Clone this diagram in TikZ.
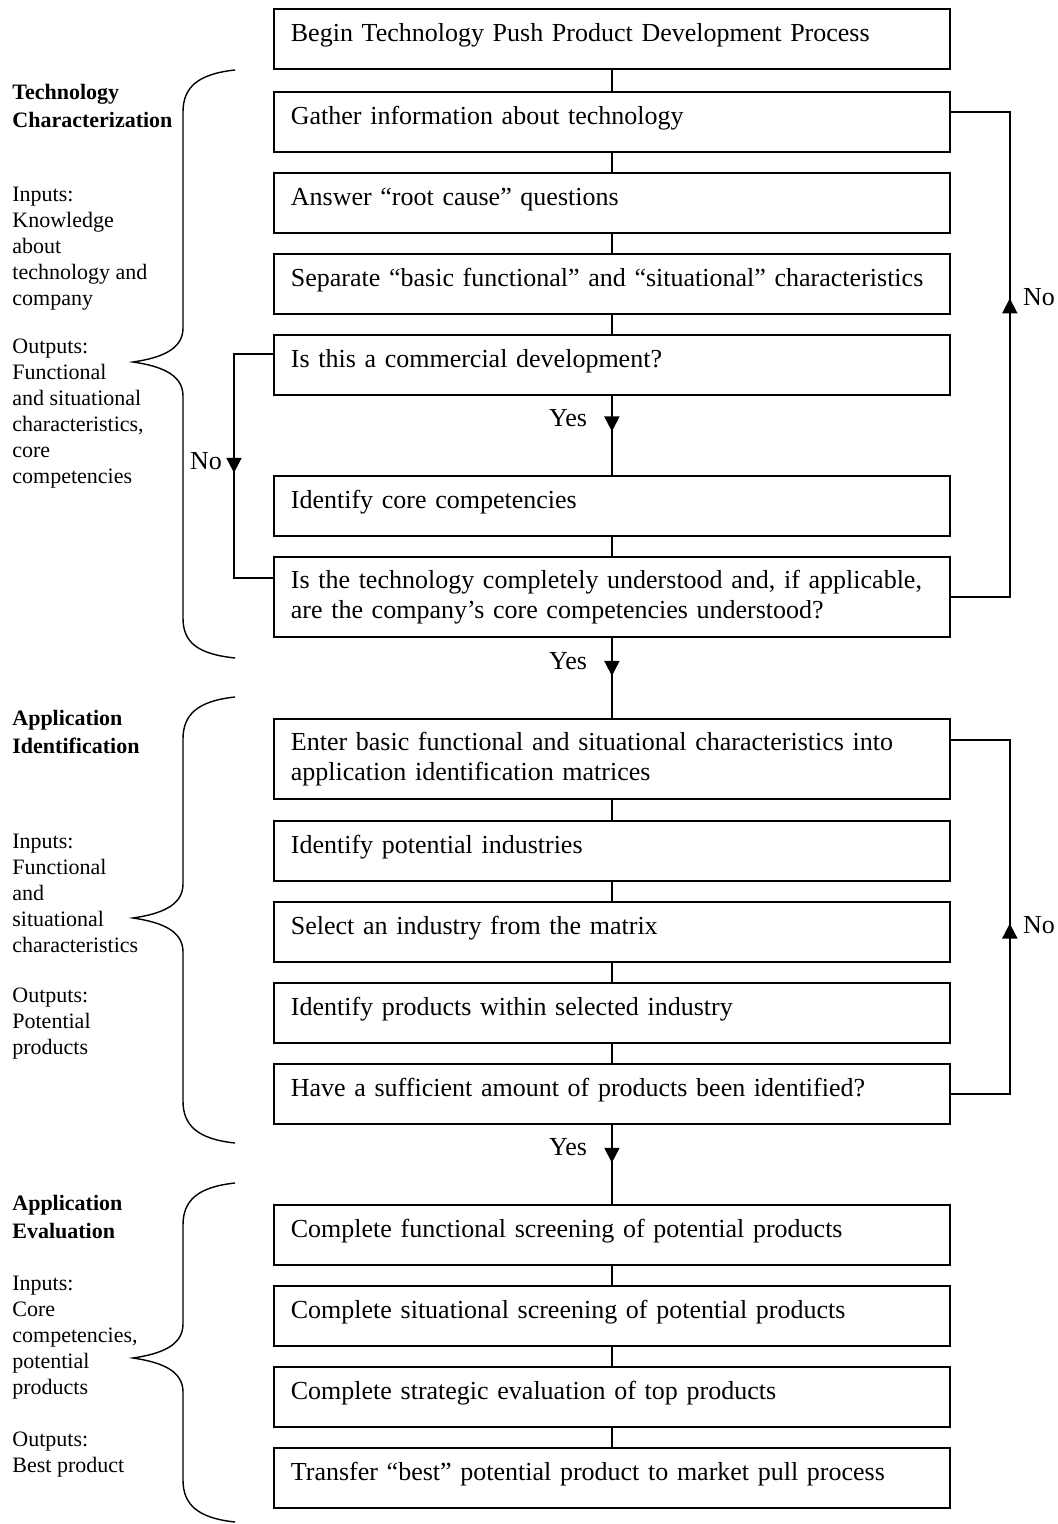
\documentclass[tikz,border=0pt]{standalone}
\usepackage{fontspec}
\setmainfont{Liberation Serif}
\usetikzlibrary{arrows.meta,decorations.markings}

\begin{document}
\begin{tikzpicture}[x=0.5pt, y=-0.5pt,
  boxbase/.style={draw, line width=0.9pt, anchor=north west,
    text width=321pt, inner xsep=8.5pt, inner ysep=0pt, align=left,
    font=\fontsize{13}{15}\selectfont},
  stepbox/.style={boxbase, minimum height=30pt, text height=9.5pt, text depth=6.5pt},
  tallbox/.style={boxbase, minimum height=40pt},
  flow/.style={line width=0.9pt},
  midarrow/.style={postaction={decorate, decoration={markings,
    mark=at position #1 with {\arrow{Triangle[width=7.5pt,length=7.5pt]}}}}},
  lbl/.style={inner sep=0pt, font=\fontsize{13}{15}\selectfont},
  sidehead/.style={anchor=north west, inner sep=0pt, align=left,
    font=\fontsize{11}{14}\selectfont\bfseries},
  sidetext/.style={anchor=north west, inner sep=0pt, align=left,
    font=\fontsize{11}{13}\selectfont},
  brace/.style={line width=0.7pt}]

  \useasboundingbox (0,0) rectangle (1057,1524);

  % Boxes of the process
  \node[stepbox] (begin) at (273,8) {Begin Technology Push Product Development Process};
  \node[stepbox] (gather) at (273,91) {Gather information about technology};
  \node[stepbox] (root) at (273,172) {Answer “root cause” questions};
  \node[stepbox] (separate) at (273,253) {Separate “basic functional” and “situational” characteristics};
  \node[stepbox] (comm) at (273,334) {Is this a commercial development?};
  \node[stepbox] (core) at (273,475) {Identify core competencies};
  \node[tallbox] (understood) at (273,556)
    {Is the technology completely understood and, if applicable,\\are the company’s core competencies understood?};
  \node[tallbox] (enter) at (273,718)
    {Enter basic functional and situational characteristics into\\application identification matrices};
  \node[stepbox] (industries) at (273,820) {Identify potential industries};
  \node[stepbox] (select) at (273,901) {Select an industry from the matrix};
  \node[stepbox] (products) at (273,982) {Identify products within selected industry};
  \node[stepbox] (enough) at (273,1063) {Have a sufficient amount of products been identified?};
  \node[stepbox] (functional) at (273,1204) {Complete functional screening of potential products};
  \node[stepbox] (situational) at (273,1285) {Complete situational screening of potential products};
  \node[stepbox] (strategic) at (273,1366) {Complete strategic evaluation of top products};
  \node[stepbox] (transfer) at (273,1447) {Transfer “best” potential product to market pull process};

  % Plain links
  \draw[flow] (begin.south) -- (gather.north);
  \draw[flow] (gather.south) -- (root.north);
  \draw[flow] (root.south) -- (separate.north);
  \draw[flow] (separate.south) -- (comm.north);
  \draw[flow] (core.south) -- (understood.north);
  \draw[flow] (enter.south) -- (industries.north);
  \draw[flow] (industries.south) -- (select.north);
  \draw[flow] (select.south) -- (products.north);
  \draw[flow] (products.south) -- (enough.north);
  \draw[flow] (functional.south) -- (situational.north);
  \draw[flow] (situational.south) -- (strategic.north);
  \draw[flow] (strategic.south) -- (transfer.north);

  % Yes branches
  \draw[flow, midarrow=0.45] (comm.south) -- (core.north);
  \draw[flow, midarrow=0.475] (understood.south) -- (enter.north);
  \draw[flow, midarrow=0.48] (enough.south) -- (functional.north);
  \node[lbl] (yes1) at (568,418) {Yes};
  \node[lbl] (yes2) at (568,661) {Yes};
  \node[lbl] (yes3) at (568,1147) {Yes};

  % No loops
  \draw[flow, midarrow=0.523] ([yshift=5.5pt]comm.west) -- ++(-39,0) |- ([yshift=9.5pt]understood.west);
  \draw[flow, midarrow=0.593] (understood.east) -- ++(59,0) |- ([yshift=5pt]gather.east);
  \draw[flow, midarrow=0.486] (enough.east) -- ++(59,0) |- ([yshift=9.5pt]enter.east);
  \node[lbl] (no1) at (206,461) {No};
  \node[lbl] (no2) at (1039,297) {No};
  \node[lbl] (no3) at (1039,925) {No};

  % Braces
  \draw[brace] (235,70) .. controls (197,74) and (183,88) .. (183,112) -- (183,328)
    .. controls (183,350) and (160,358) .. (133,362)
    .. controls (160,366) and (183,374) .. (183,396) -- (183,618)
    .. controls (183,642) and (197,654) .. (235,658);
  \draw[brace] (235,697) .. controls (197,701) and (183,715) .. (183,739) -- (183,884)
    .. controls (183,906) and (160,914) .. (133,918)
    .. controls (160,922) and (183,930) .. (183,952) -- (183,1101)
    .. controls (183,1125) and (197,1139) .. (235,1143);
  \draw[brace] (235,1183) .. controls (197,1187) and (183,1201) .. (183,1225) -- (183,1324)
    .. controls (183,1346) and (160,1354) .. (133,1358)
    .. controls (160,1362) and (183,1370) .. (183,1392) -- (183,1480)
    .. controls (183,1504) and (197,1518) .. (235,1522);

  % Side texts
  \node[sidehead] (tchead) at (12,84) {Technology\\Characterization};
  \node[sidetext] (tcin) at (12,187) {Inputs:\\Knowledge\\about\\technology and\\company};
  \node[sidetext] (tcout) at (12,339) {Outputs:\\Functional\\and situational\\characteristics,\\core\\competencies};
  \node[sidehead] (aihead) at (12,710) {Application\\Identification};
  \node[sidetext] (aiin) at (12,834) {Inputs:\\Functional\\and\\situational\\characteristics};
  \node[sidetext] (aiout) at (12,988) {Outputs:\\Potential\\products};
  \node[sidehead] (aehead) at (12,1195) {Application\\Evaluation};
  \node[sidetext] (aein) at (12,1276) {Inputs:\\Core\\competencies,\\potential\\products};
  \node[sidetext] (aeout) at (12,1432) {Outputs:\\Best product};
\end{tikzpicture}
\end{document}
